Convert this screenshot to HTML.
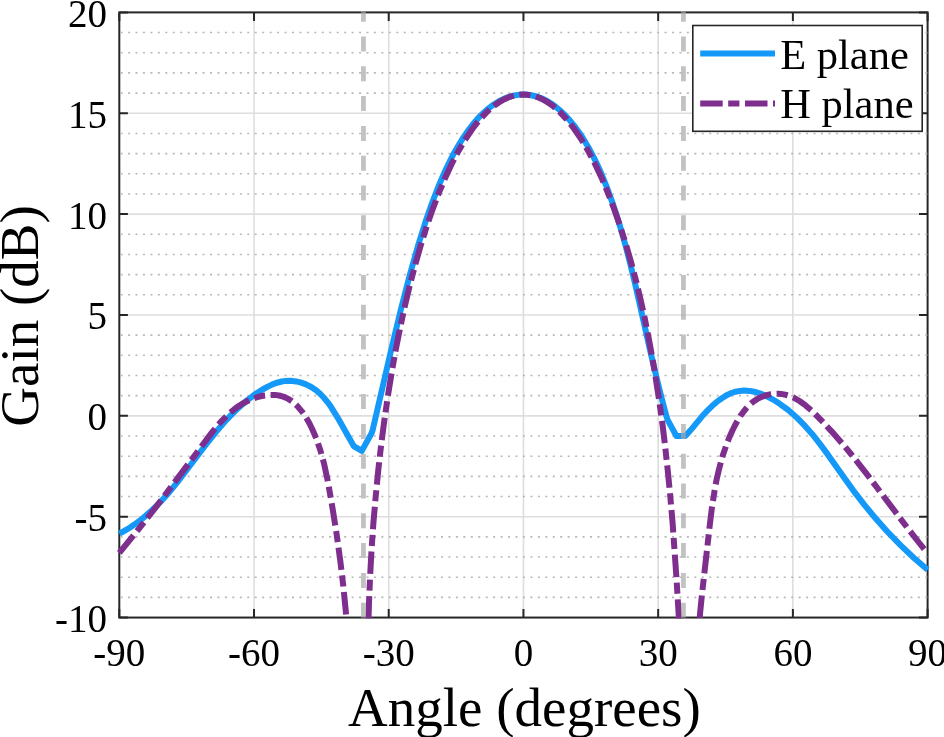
<!DOCTYPE html><html><head><meta charset="utf-8"><style>html,body{margin:0;padding:0;background:#fff;}svg{display:block;will-change:transform;}text{font-family:"Liberation Serif",serif;fill:#000;}</style></head><body>
<svg width="944" height="737" viewBox="0 0 944 737">
<rect width="944" height="737" fill="#fff"/>
<defs><clipPath id="cy"><rect x="0" y="11.20" width="944" height="607.35"/></clipPath></defs>
<path d="M119.3 516.69H927.6 M119.3 415.83H927.6 M119.3 314.97H927.6 M119.3 214.12H927.6 M119.3 113.26H927.6 M254.02 12.4V617.5 M388.73 12.4V617.5 M523.45 12.4V617.5 M658.17 12.4V617.5 M792.88 12.4V617.5" stroke="#dedede" stroke-width="1.6" fill="none"/>
<rect x="119.3" y="12.4" width="808.30" height="605.15" fill="none" stroke="#262626" stroke-width="2"/>
<path d="M119.30 617.55v-8.6M119.30 12.40v8.6M254.02 617.55v-8.6M254.02 12.40v8.6M388.73 617.55v-8.6M388.73 12.40v8.6M523.45 617.55v-8.6M523.45 12.40v8.6M658.17 617.55v-8.6M658.17 12.40v8.6M792.88 617.55v-8.6M792.88 12.40v8.6M927.60 617.55v-8.6M927.60 12.40v8.6M119.30 617.55h8.6M927.60 617.55h-8.6M119.30 516.69h8.6M927.60 516.69h-8.6M119.30 415.83h8.6M927.60 415.83h-8.6M119.30 314.97h8.6M927.60 314.97h-8.6M119.30 214.12h8.6M927.60 214.12h-8.6M119.30 113.26h8.6M927.60 113.26h-8.6M119.30 12.40h8.6M927.60 12.40h-8.6" stroke="#262626" stroke-width="2" fill="none"/>
<path d="M120.3 597.38H927.6 M120.3 577.21H927.6 M120.3 557.03H927.6 M120.3 536.86H927.6 M120.3 496.52H927.6 M120.3 476.35H927.6 M120.3 456.18H927.6 M120.3 436.00H927.6 M120.3 395.66H927.6 M120.3 375.49H927.6 M120.3 355.32H927.6 M120.3 335.15H927.6 M120.3 294.80H927.6 M120.3 274.63H927.6 M120.3 254.46H927.6 M120.3 234.29H927.6 M120.3 193.94H927.6 M120.3 173.77H927.6 M120.3 153.60H927.6 M120.3 133.43H927.6 M120.3 93.09H927.6 M120.3 72.91H927.6 M120.3 52.74H927.6 M120.3 32.57H927.6" stroke="#b8b8b8" stroke-width="1.6" stroke-dasharray="2 5.451" stroke-dashoffset="-0.3" fill="none"/>
<g clip-path="url(#cy)" fill="none" stroke-linejoin="round">
<path d="M119.3 533.7 L124.4 530.9 L129.7 527.7 L134.7 524.3 L140.8 519.8 L145.4 516.1 L151.0 511.1 L156.4 506.0 L161.6 500.7 L169.5 491.9 L178.9 480.3 L205.1 445.7 L215.3 432.8 L226.0 420.4 L235.3 410.8 L240.8 405.7 L246.4 400.9 L252.4 396.3 L257.3 392.8 L262.5 389.5 L267.8 386.6 L271.9 384.6 L276.0 383.0 L281.7 381.5 L286.0 380.9 L290.3 380.8 L296.1 381.4 L300.4 382.4 L306.0 384.4 L311.2 387.0 L316.1 390.3 L319.5 393.2 L323.7 397.5 L327.5 402.1 L331.1 407.1 L337.6 417.6 L353.7 446.1 L361.8 450.9 L371.7 433.0 L372.7 429.9 L391.3 349.3 L400.6 310.6 L409.7 275.2 L418.3 244.9 L425.1 223.1 L431.4 204.8 L438.5 186.2 L445.2 170.8 L450.0 160.9 L454.1 152.9 L458.4 145.5 L463.4 137.4 L467.7 131.1 L472.9 124.3 L478.1 118.2 L483.4 112.9 L488.0 108.8 L493.4 104.7 L498.9 101.3 L504.4 98.6 L509.1 96.8 L514.7 95.4 L520.3 94.6 L525.7 94.6 L531.1 95.2 L535.7 96.2 L541.0 98.1 L545.6 100.2 L550.8 103.3 L555.3 106.5 L560.5 110.8 L564.9 115.0 L570.0 120.6 L574.3 125.9 L579.3 132.7 L583.4 139.0 L588.2 147.0 L592.2 154.4 L596.2 162.3 L600.1 170.7 L606.3 185.8 L612.9 203.9 L619.3 223.7 L625.4 245.1 L630.3 263.9 L635.1 283.7 L650.6 352.5 L656.3 376.8 L661.2 396.5 L666.6 416.9 L667.6 419.9 L676.4 436.0 L685.3 436.0 L690.5 430.3 L703.5 414.7 L707.6 410.4 L712.0 406.1 L716.7 401.9 L721.9 398.2 L727.2 394.9 L731.4 393.0 L735.6 391.7 L739.8 390.9 L744.1 390.6 L749.8 390.9 L754.1 391.7 L759.7 393.4 L765.3 395.6 L770.7 398.3 L774.6 400.5 L779.7 403.8 L788.2 410.0 L792.7 413.9 L797.1 417.9 L805.4 426.4 L812.3 434.2 L819.7 443.6 L827.7 454.4 L845.1 479.1 L853.0 490.1 L864.0 504.3 L874.4 517.0 L887.2 531.5 L900.7 545.4 L913.7 557.7 L927.6 569.7" stroke="#1599f8" stroke-width="6"/>
<path d="M119.3 552.9 L136.6 531.7 L155.1 508.2 L172.1 485.6 L211.8 432.6 L220.5 422.2 L227.9 414.7 L234.6 408.9 L238.3 406.3 L242.0 403.9 L245.9 401.8 L250.0 399.8 L257.2 397.2 L261.7 396.0 L264.6 395.5 L269.1 395.0 L272.0 394.9 L276.3 395.1 L279.1 395.5 L283.2 396.6 L285.7 397.6 L288.2 398.9 L291.8 401.1 L294.0 402.9 L297.2 405.9 L302.0 411.6 L304.7 415.4 L307.2 419.4 L309.5 423.5 L312.3 429.2 L316.6 439.3 L320.5 450.8 L324.1 463.8 L327.8 481.1 L332.4 507.4 L336.6 534.0 L340.3 560.8 L343.3 586.2 L345.7 610.2 L347.6 634.1 L349.1 657.8" stroke="#7e2f8e" stroke-width="6" stroke-dasharray="22.5 5.5 11.2 5.6" stroke-dashoffset="0"/>
<path d="M367.7 657.9 L368.1 632.5 L369.0 602.7 L370.0 578.6 L371.5 550.4 L373.4 523.0 L375.7 496.5 L378.2 470.9 L381.0 446.1 L384.1 422.1 L388.0 395.2 L391.6 373.1 L396.0 348.3 L400.1 328.0 L405.0 305.4 L410.1 284.0 L415.5 263.7 L421.0 244.5 L426.7 226.5 L432.5 209.6 L439.3 191.8 L445.4 177.4 L452.5 162.3 L458.8 150.4 L466.1 138.2 L472.5 128.8 L476.2 123.9 L479.9 119.4 L486.5 112.4 L490.2 108.9 L494.0 105.8 L500.6 101.3 L504.4 99.2 L508.2 97.5 L512.0 96.2 L515.8 95.3 L519.6 94.7 L523.4 94.5 L527.2 94.7 L531.0 95.3 L534.8 96.2 L538.5 97.5 L542.3 99.2 L546.1 101.3 L552.7 105.8 L556.4 108.9 L560.2 112.4 L566.7 119.4 L570.4 123.9 L574.1 128.8 L580.6 138.2 L587.9 150.4 L594.2 162.3 L601.4 177.4 L607.5 191.8 L613.5 207.3 L619.4 224.0 L625.2 241.9 L630.7 260.8 L636.1 281.0 L640.5 299.2 L644.7 318.2 L648.7 338.1 L652.5 358.8 L656.1 380.4 L659.5 402.8 L662.7 426.0 L665.1 446.1 L667.8 470.9 L670.3 496.5 L672.6 523.0 L676.5 578.6 L681.3 657.9" stroke="#7e2f8e" stroke-width="6" stroke-dasharray="22.5 5.5 11.2 5.6" stroke-dashoffset="5.62"/>
<path d="M698.6 657.9 L698.5 644.3 L699.0 629.3 L700.1 612.9 L701.9 595.1 L709.8 525.0 L711.8 508.6 L715.0 487.9 L716.7 479.2 L718.7 470.5 L722.5 456.2 L726.9 443.5 L729.7 436.5 L732.2 431.0 L734.9 425.5 L737.9 420.1 L740.3 416.1 L743.0 412.4 L745.8 408.8 L748.9 405.5 L752.2 402.5 L754.6 400.8 L757.0 399.2 L761.0 397.1 L766.6 395.2 L770.9 394.2 L773.8 393.9 L778.2 393.7 L781.0 393.9 L786.6 395.0 L789.3 395.8 L793.2 397.4 L799.5 401.0 L805.6 405.4 L812.5 411.4 L821.3 420.3 L831.8 431.6 L841.8 443.0 L851.4 454.5 L868.8 476.7 L908.2 528.9 L918.5 542.0 L927.6 553.2" stroke="#7e2f8e" stroke-width="6" stroke-dasharray="22.5 5.5 11.2 5.6" stroke-dashoffset="4.73"/>
<path d="M363.45 6.7V620" stroke="#a6a6a6" stroke-opacity="0.69" stroke-width="4.8" stroke-dasharray="15 14.8"/>
<path d="M683.45 6.7V620" stroke="#a6a6a6" stroke-opacity="0.69" stroke-width="4.8" stroke-dasharray="15 14.8"/>
</g>
<text x="119.30" y="665.6" font-size="39" text-anchor="middle">-90</text>
<text x="254.02" y="665.6" font-size="39" text-anchor="middle">-60</text>
<text x="388.73" y="665.6" font-size="39" text-anchor="middle">-30</text>
<text x="523.45" y="665.6" font-size="39" text-anchor="middle">0</text>
<text x="658.17" y="665.6" font-size="39" text-anchor="middle">30</text>
<text x="792.88" y="665.6" font-size="39" text-anchor="middle">60</text>
<text x="927.60" y="665.6" font-size="39" text-anchor="middle">90</text>
<text x="107" y="631.95" font-size="39" text-anchor="end">-10</text>
<text x="107" y="531.09" font-size="39" text-anchor="end">-5</text>
<text x="107" y="430.23" font-size="39" text-anchor="end">0</text>
<text x="107" y="329.37" font-size="39" text-anchor="end">5</text>
<text x="107" y="228.52" font-size="39" text-anchor="end">10</text>
<text x="107" y="127.66" font-size="39" text-anchor="end">15</text>
<text x="107" y="26.80" font-size="39" text-anchor="end">20</text>
<text x="524.4" y="725.8" font-size="55" text-anchor="middle">Angle (degrees)</text>
<text transform="translate(38.3 316) rotate(-90)" font-size="55" text-anchor="middle">Gain (dB)</text>
<rect x="692.8" y="25.5" width="229.4" height="105.8" fill="#fff" stroke="#262626" stroke-width="1.6"/>
<path d="M700.2 53.5H775" stroke="#1599f8" stroke-width="6" fill="none"/>
<path d="M700.2 103.4H775" stroke="#7e2f8e" stroke-width="6" fill="none" stroke-dasharray="22.5 5.5 11.2 5.6"/>
<text x="780.2" y="68.6" font-size="42.5">E plane</text>
<text x="780.2" y="118.1" font-size="42.5">H plane</text>
</svg></body></html>
